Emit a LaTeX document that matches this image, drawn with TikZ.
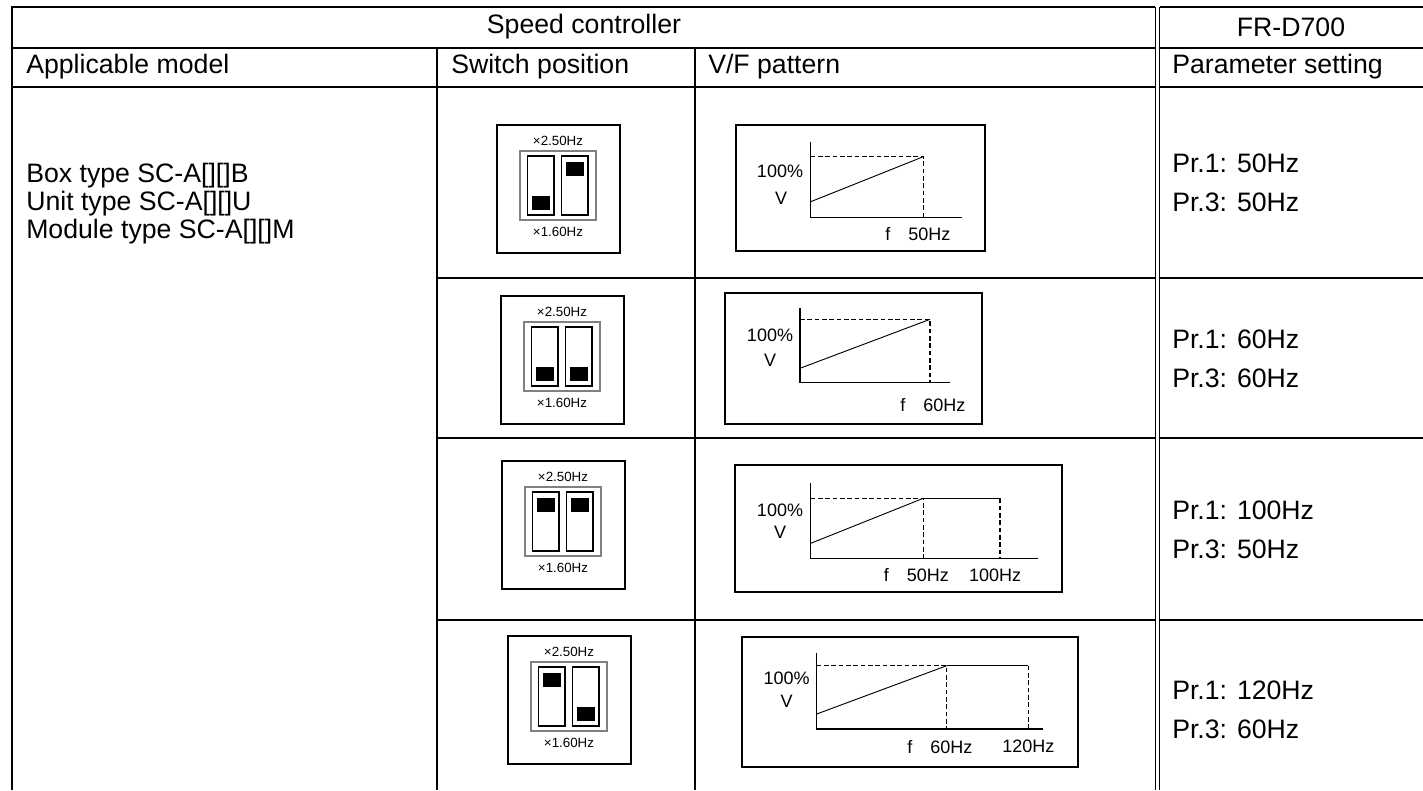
\documentclass[tikz,border=0pt]{standalone}
\usepackage{fontspec}
\setmainfont{Liberation Sans}
\begin{document}
\begin{tikzpicture}[x=0.75pt,y=-0.75pt,
  tbl/.style={line width=1.6pt},
  dbl/.style={line width=1.1pt},
  frame/.style={draw,line width=1.5pt},
  axis/.style={line width=1.1pt},
  ramp/.style={line width=0.7pt},
  dsh/.style={line width=1.1pt,dash pattern=on 3.5pt off 2pt},
  head/.style={font=\fontsize{20}{24}\selectfont,inner sep=0pt},
  cell/.style={font=\fontsize{20}{29}\selectfont,inner sep=0pt,align=left,anchor=west},
  glab/.style={font=\fontsize{13.5}{15}\selectfont,inner sep=0pt},
  swlab/.style={font=\fontsize{10}{12}\selectfont,inner sep=0pt},
  pics/switch/.style 2 args={code={
    \draw[line width=1.5pt] (-61.5,-64) rectangle (61.5,64);
    \draw[gray,line width=0.8pt] (-38,-38) rectangle (38,31);
    \draw[line width=1pt] (-30.5,-33) rectangle (-4,26);
    \draw[line width=1pt] (3.5,-33) rectangle (30,26);
    \fill (-26,#1-7) rectangle (-8,#1+7);
    \fill (8,#2-7) rectangle (26,#2+7);
    \node[swlab] (hi) at (0,-48) {×2.50Hz};
    \node[swlab] (lo) at (0,43) {×1.60Hz};
  }}
]
\useasboundingbox (0,0) rectangle (1423,790);
% ---- table grid ----
\draw[tbl] (12,790) -- (12,7) -- (1155,7);
\draw[tbl] (1160,7) -- (1423,7);
\draw[tbl] (12,48) -- (1155,48);
\draw[tbl] (1160,48) -- (1423,48);
\draw[tbl] (12,87) -- (1155,87);
\draw[tbl] (1160,87) -- (1423,87);
\foreach \yy in {278,438,620}{
  \draw[tbl] (437,\yy) -- (1155,\yy);
  \draw[tbl] (1160,\yy) -- (1423,\yy);
}
\draw[tbl] (437,48) -- (437,790);
\draw[tbl] (695,48) -- (695,790);
\draw[dbl] (1155.5,7) -- (1155.5,790);
\draw[dbl] (1159.5,7) -- (1159.5,790);
% ---- headers ----
\node[head] (h1) at (584,27) {Speed controller};
\node[head] (h2) at (1291,27) {FR-D700};
\node[head,anchor=west] (c1) at (26,67) {Applicable model};
\node[head,anchor=west] (c2) at (451,67) {Switch position};
\node[head,anchor=west] (c3) at (708,67) {V/F pattern};
\node[head,anchor=west] (c4) at (1172,67) {Parameter setting};
% ---- models ----
\node[cell,font=\fontsize{20}{21}\selectfont] (models) at (26,204) {Box type SC-A[][]B\\Unit type SC-A[][]U\\Module type SC-A[][]M};
% ---- parameter settings ----
\node[cell] (p1) at (1172,182.5) {Pr.1: 50Hz\\Pr.3: 50Hz};
\node[cell] (p2) at (1172,358.5) {Pr.1: 60Hz\\Pr.3: 60Hz};
\node[cell] (p3) at (1172,529.5) {Pr.1: 100Hz\\Pr.3: 50Hz};
\node[cell] (p4) at (1172,709.5) {Pr.1: 120Hz\\Pr.3: 60Hz};
% ---- switches ----
\pic (sw1) at (558,189) {switch={13.8}{-20.3}};
\pic (sw2) at (562,360) {switch={13.8}{13.8}};
\pic (sw3) at (563,525) {switch={-20.3}{-20.3}};
\pic (sw4) at (569,700) {switch={-20.3}{13.8}};
% ---- V/F graph 1 ----
\draw[frame] (735.7,125) rectangle (985,251);
\draw[axis] (810.7,141.7) -- (810.7,217.3) -- (961.7,217.3);
\draw[dsh] (810.7,156.7) -- (923.3,156.7) -- (923.3,217.3);
\draw[ramp] (810.7,201.7) -- (923.3,156.7);
\node[glab] (g1a) at (780,171) {100\%};
\node[glab] (g1b) at (781,198) {V};
\node[glab,anchor=west] (g1c) at (885,234) {f\quad 50Hz};
% ---- V/F graph 2 ----
\draw[frame] (725,292.7) rectangle (981.7,424);
\draw[axis] (800,308.3) -- (800,382.7) -- (950,382.7);
\draw[dsh] (800,319.3) -- (930,319.3) -- (930,382.7);
\draw[ramp] (800,368.3) -- (930,319.3);
\node[glab] (g2a) at (770,335) {100\%};
\node[glab] (g2b) at (770,360) {V};
\node[glab,anchor=west] (g2c) at (900,405) {f\quad 60Hz};
% ---- V/F graph 3 ----
\draw[frame] (735,465) rectangle (1061.7,592.3);
\draw[axis] (810.7,483.3) -- (810.7,558.3) -- (1038.3,558.3);
\draw[dsh] (810.7,498.3) -- (923.3,498.3) -- (923.3,558.3);
\draw[ramp] (923.3,498.3) -- (1000,498.3);
\draw[dsh] (1000,498.3) -- (1000,558.3);
\draw[ramp] (810.7,543.3) -- (923.3,498.3);
\node[glab] (g3a) at (780,510) {100\%};
\node[glab] (g3b) at (780,532) {V};
\node[glab,anchor=west] (g3c) at (883.5,575) {f\quad 50Hz};
\node[glab] (g3d) at (995,575) {100Hz};
% ---- V/F graph 4 ----
\draw[frame] (741.7,636.7) rectangle (1077.7,766.7);
\draw[axis] (816.7,653.3) -- (816.7,729) -- (1043.3,729);
\draw[dsh] (816.7,665.7) -- (946.7,665.7) -- (946.7,729);
\draw[ramp] (946.7,665.7) -- (1028.3,665.7);
\draw[dsh] (1028.3,665.7) -- (1028.3,729);
\draw[ramp] (816.7,714) -- (946.7,665.7);
\node[glab] (g4a) at (786.7,678.3) {100\%};
\node[glab] (g4b) at (786.7,701.7) {V};
\node[glab,anchor=west] (g4c) at (907,746.7) {f\quad 60Hz};
\node[glab] (g4d) at (1028.3,746.7) {120Hz};
\end{tikzpicture}
\end{document}
